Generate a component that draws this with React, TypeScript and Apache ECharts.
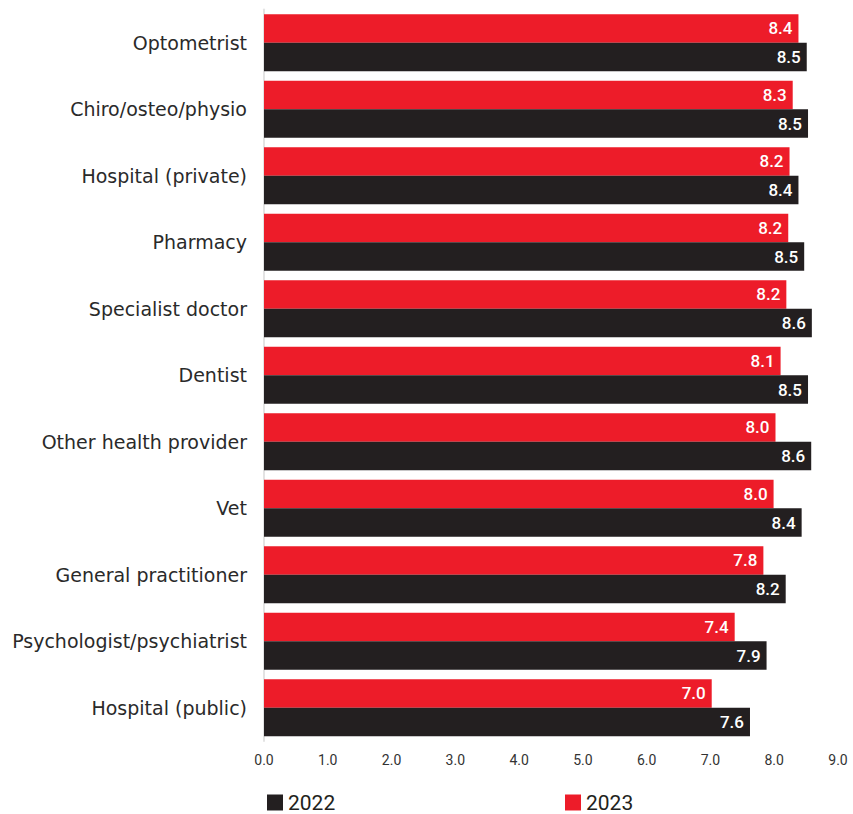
import React, { useEffect, useRef } from "react";
import * as echarts from "echarts";

const categories = [
  "Optometrist",
  "Chiro/osteo/physio",
  "Hospital (private)",
  "Pharmacy",
  "Specialist doctor",
  "Dentist",
  "Other health provider",
  "Vet",
  "General practitioner",
  "Psychologist/psychiatrist",
  "Hospital (public)",
];
const values2023 = [8.38, 8.29, 8.24, 8.22, 8.19, 8.1, 8.02, 7.99, 7.83, 7.38, 7.02];
const values2022 = [8.51, 8.53, 8.38, 8.47, 8.59, 8.53, 8.58, 8.43, 8.18, 7.88, 7.62];
const xTicks = [0, 1, 2, 3, 4, 5, 6, 7, 8, 9];

const RED = "#ED1C29";
const BLACK = "#231F20";

export default function App() {
  const ref = useRef<HTMLDivElement>(null);
  useEffect(() => {
    const chart = echarts.init(ref.current!, null, { renderer: "svg" });
    const labelCfg = {
      show: true,
      position: "insideRight",
      distance: 6,
      color: "#fff",
      fontFamily: "Roboto",
      fontWeight: 500,
      fontSize: 17,
      formatter: (p: any) => Number(p.value).toFixed(1),
    };
    const legendText = { fontFamily: "Roboto", fontSize: 21, color: "#231F20" };
    chart.setOption({
      animation: false,
      backgroundColor: "#fff",
      grid: { left: 264, right: 15, top: 9.5, bottom: 73, containLabel: false },
      xAxis: {
        type: "value",
        min: xTicks[0],
        max: xTicks[xTicks.length - 1],
        interval: 1,
        axisLine: { show: false },
        axisTick: { show: false },
        splitLine: { show: false },
        axisLabel: {
          color: "#333",
          fontFamily: "Roboto",
          fontSize: 14,
          margin: 12,
          formatter: (v: number) => v.toFixed(1),
        },
      },
      yAxis: {
        type: "category",
        data: categories,
        inverse: true,
        axisLine: { show: true, lineStyle: { color: "#e3e3e3", width: 2 } },
        axisTick: { show: false },
        axisLabel: {
          color: "#2a2a2a",
          fontFamily: "DejaVu Sans",
          fontSize: 19,
          margin: 17,
        },
      },
      legend: [
        {
          data: ["2022"],
          left: 262,
          top: 787,
          itemWidth: 16,
          itemHeight: 16,
          itemGap: 0,
          icon: "rect",
          textStyle: legendText,
        },
        {
          data: ["2023"],
          left: 560,
          top: 787,
          itemWidth: 16,
          itemHeight: 16,
          icon: "rect",
          textStyle: legendText,
        },
      ],
      series: [
        {
          name: "2023",
          type: "bar",
          data: values2023,
          itemStyle: { color: RED },
          barGap: "0%",
          barCategoryGap: "14%",
          label: labelCfg,
        },
        {
          name: "2022",
          type: "bar",
          data: values2022,
          itemStyle: { color: BLACK },
          barGap: "0%",
          barCategoryGap: "14%",
          label: labelCfg,
        },
      ],
    });
    return () => chart.dispose();
  }, []);
  return <div ref={ref} style={{ width: 853, height: 814, position: "absolute", left: 0, top: 0 }} />;
}
